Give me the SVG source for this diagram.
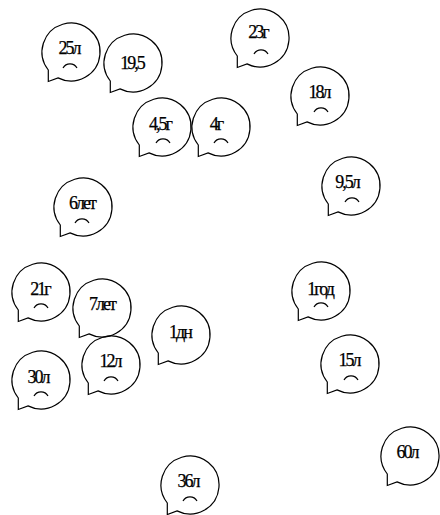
<svg xmlns="http://www.w3.org/2000/svg" xmlns:xlink="http://www.w3.org/1999/xlink" width="440" height="515" viewBox="0 0 440 515">
<defs>
<style>
.b{fill:none;stroke:#000;stroke-width:1.2}
.f{fill:none;stroke:#000;stroke-width:1.2}
text{font-family:"Liberation Serif","Times New Roman",serif;font-size:18px;letter-spacing:-2px;text-anchor:middle;fill:#000;stroke:#000;stroke-width:0.25}
</style>
<path id="bub" d="M -22.7 18 L -22.7 29.5 L -13 25.9 A 29 29 0 1 0 -22.7 18 Z"/>
<path id="frown" d="M -7 16 A 8 8 0 0 1 7 16"/>
</defs>
<rect width="440" height="515" fill="#fff"/>
<g id="connectors"/>
<g id="n25" transform="translate(71,52)"><use xlink:href="#bub" class="b"/><text x="-2" y="2">25л</text><use xlink:href="#frown" class="f" x="-1"/></g>
<g id="n195" transform="translate(133,63)"><use xlink:href="#bub" class="b"/><text x="-1" y="6">19,5</text></g>
<g id="n23" transform="translate(260,38)"><use xlink:href="#bub" class="b"/><text x="-2" y="0">23г</text><use xlink:href="#frown" class="f" x="1"/></g>
<g id="n18" transform="translate(320,96)"><use xlink:href="#bub" class="b"/><text x="-1" y="2">18л</text><use xlink:href="#frown" class="f" x="1"/></g>
<g id="n45" transform="translate(162,127)"><use xlink:href="#bub" class="b"/><text x="-2" y="3">4,5г</text><use xlink:href="#frown" class="f" x="1"/></g>
<g id="n4" transform="translate(221,127)"><use xlink:href="#bub" class="b"/><text x="-5" y="3">4г</text><use xlink:href="#frown" class="f" x="0"/></g>
<g id="n95" transform="translate(351,186)"><use xlink:href="#bub" class="b"/><text x="-4" y="2">9,5л</text><use xlink:href="#frown" class="f" x="1"/></g>
<g id="n6" transform="translate(83,207)"><use xlink:href="#bub" class="b"/><text x="-1" y="2">6лет</text><use xlink:href="#frown" class="f" x="-1"/></g>
<g id="n21" transform="translate(41,292)"><use xlink:href="#bub" class="b"/><text x="-1" y="3">21г</text><use xlink:href="#frown" class="f" x="0"/></g>
<g id="n7" transform="translate(102,308)"><use xlink:href="#bub" class="b"/><text x="0" y="2">7лет</text></g>
<g id="n1d" transform="translate(181,335)"><use xlink:href="#bub" class="b"/><text x="-1" y="3">1дн</text></g>
<g id="n1g" transform="translate(321,291)"><use xlink:href="#bub" class="b"/><text x="-1" y="4">1год</text><use xlink:href="#frown" class="f" x="0"/></g>
<g id="n30" transform="translate(41,380)"><use xlink:href="#bub" class="b"/><text x="-3" y="3">30л</text><use xlink:href="#frown" class="f" x="0"/></g>
<g id="n12" transform="translate(111,365)"><use xlink:href="#bub" class="b"/><text x="-1" y="2">12л</text><use xlink:href="#frown" class="f" x="0"/></g>
<g id="n15" transform="translate(350,364)"><use xlink:href="#bub" class="b"/><text x="-1" y="2">15л</text><use xlink:href="#frown" class="f" x="1"/></g>
<g id="n60" transform="translate(410,456)"><use xlink:href="#bub" class="b"/><text x="-3" y="2">60л</text></g>
<g id="n36" transform="translate(190,485)"><use xlink:href="#bub" class="b"/><text x="-2" y="2">36л</text><use xlink:href="#frown" class="f" x="0"/></g>
</svg>
